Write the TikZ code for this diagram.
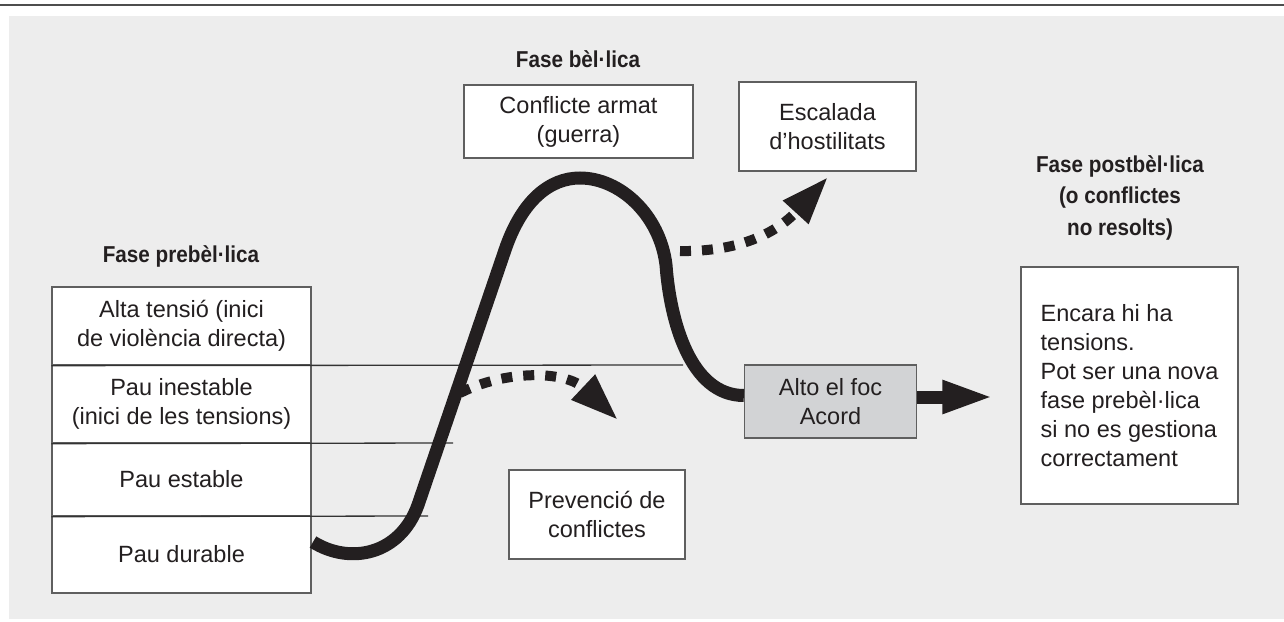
\documentclass[tikz,border=0pt]{standalone}
\usepackage{fontspec}
\setmainfont{Liberation Sans}
\newfontfamily\headfont[FakeStretch=0.9]{Liberation Sans}
\usetikzlibrary{arrows.meta}
\definecolor{bggray}{HTML}{EDEDED}
\definecolor{curveblack}{HTML}{231F20}
\definecolor{altogray}{HTML}{D2D3D5}
\definecolor{boxborder}{HTML}{5F5F5F}
\definecolor{rulegray}{HTML}{333333}
\definecolor{topline}{HTML}{4D4D4D}
\tikzset{
  txt/.style={font=\fontsize{23.5}{29}\selectfont},
  head/.style={font=\headfont\bfseries\fontsize{23}{31.5}\selectfont, text=curveblack, inner sep=0pt},
  box/.style={txt, draw=boxborder, line width=1.3pt, fill=white, align=center, inner sep=0pt, text=curveblack},
  cell/.style={box, minimum width=259pt},
  divider/.style={draw=rulegray, line width=1.3pt},
  bigcurve/.style={draw=curveblack, line width=13pt},
  dotarrow/.style={draw=curveblack, line width=10pt, dash pattern=on 11pt off 11pt,
     -{Triangle[length=48pt,width=32pt]}},
  thickarrow/.style={draw=curveblack, line width=13pt, -{Triangle[length=52pt,width=30pt]}, shorten >=26pt},
}
\begin{document}
\begin{tikzpicture}[x=1pt,y=-1pt]
\useasboundingbox (0,0) rectangle (1284,621);
\fill[bggray] (9,16) rectangle (1284,619);
\draw[topline, line width=2.5pt] (0,5) -- (1284,5);

% headings
\node[head, anchor=base] (hpre) at (181,262) {Fase prebèl·lica};
\node[head, anchor=base] (hbel) at (578,67) {Fase bèl·lica};
\node[head, align=center] (hpost) at (1120,197.5) {Fase postbèl·lica\\(o conflictes\\no resolts)};

% table
\node[cell, minimum height=78pt] (r1) at (181.5,326) {Alta tensió (inici\\de violència directa)};
\node[cell, minimum height=78pt] (r2) at (181.5,404) {Pau inestable\\(inici de les tensions)};
\node[cell, minimum height=73pt] (r3) at (181.5,479.5) {Pau estable};
\node[cell, minimum height=77pt] (r4) at (181.5,554.5) {Pau durable};
\coordinate (l1) at (683,365);
\coordinate (l2) at (453,443);
\coordinate (l3) at (428,516);
\draw[divider] (r1.south west) -- (l1);
\draw[divider] (r2.south west) -- (l2);
\draw[divider] (r3.south west) -- (l3);

% other boxes
\node[box, minimum width=229pt, minimum height=73pt] (conf) at (578.5,121.5) {Conflicte armat\\(guerra)};
\node[box, minimum width=177pt, minimum height=89pt] (esc) at (827.5,126.5) {Escalada\\d’hostilitats};
\node[box, minimum width=176pt, minimum height=89pt] (prev) at (597,514.5) {Prevenció de\\conflictes};
\node[box, fill=altogray, minimum width=172pt, minimum height=73pt] (alto) at (830.5,401.5) {Alto el foc\\Acord};
\node[box, align=left, minimum width=217pt, minimum height=237pt] (enc) at (1129.5,385.5)
  {Encara hi ha\\tensions.\\Pot ser una nova\\fase prebèl·lica\\si no es gestiona\\correctament};

% main curve
\coordinate (s0) at (313,542);
\draw[bigcurve] (s0) .. controls (350,565) and (400,555) .. (418,505)
  -- (505,250) .. controls (522,200) and (550,178) .. (580,178)
  .. controls (620,178) and (660,215) .. (666,265)
  .. controls (670,320) and (690,395.5) .. ([yshift=6pt]alto.west);

% dotted arrows
\coordinate (d1s) at (680,251);
\coordinate (d1e) at (828,177);
\draw[dotarrow] (d1s) .. controls (735,252) and (775,235) .. (d1e);
\coordinate (d2s) at (460,393);
\coordinate (d2e) at (618,420);
\draw[dotarrow] (d2s) .. controls (505,370) and (565,370) .. (d2e);

% thick arrow
\coordinate (a0) at ([yshift=4.5pt]alto.east);
\draw[thickarrow] (a0) -- (a0 -| enc.west);
\end{tikzpicture}
\end{document}
